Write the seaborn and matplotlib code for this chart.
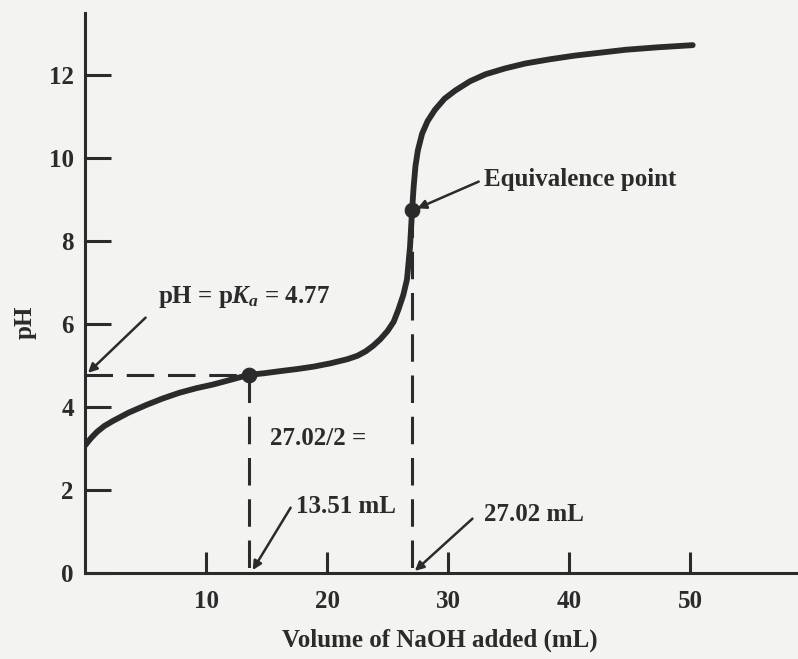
import numpy as np
import pandas as pd
import matplotlib
matplotlib.use('Agg')
import matplotlib.pyplot as plt
import seaborn as sns

# titration curve (mL NaOH, pH)
volume = [0.0, 0.5, 1.0, 1.6, 2.3, 3.6, 5.1, 6.4, 7.8, 9.2, 10.6, 12.0, 13.51,
          14.8, 16.1, 17.5, 18.9, 20.3, 21.7, 22.5, 23.2, 23.8, 24.4, 25.0,
          25.5, 25.9, 26.3, 26.6, 26.85, 27.02, 27.15, 27.3, 27.5, 27.85,
          28.3, 28.9, 29.7, 30.6, 31.8, 33.1, 34.7, 36.4, 38.4, 40.5, 42.6,
          44.7, 47.4, 50.2]
ph = [3.07, 3.25, 3.40, 3.54, 3.66, 3.86, 4.05, 4.20, 4.34, 4.45, 4.54, 4.65, 4.77,
      4.81, 4.86, 4.91, 4.97, 5.05, 5.15, 5.23, 5.34, 5.47, 5.63, 5.83,
      6.05, 6.35, 6.70, 7.07, 7.85, 8.73, 9.30, 9.80, 10.18, 10.58,
      10.88, 11.15, 11.42, 11.62, 11.84, 12.01, 12.15, 12.27, 12.37, 12.46, 12.53,
      12.60, 12.66, 12.71]

half_eq_vol = 13.51
half_eq_ph = 4.77
eq_vol = 27.02
eq_ph = 8.73

x_ticks = [10, 20, 30, 40, 50]
y_ticks = [0, 2, 4, 6, 8, 10, 12]

sns.set_theme(style='white')
plt.rcParams['font.family'] = ['Liberation Serif', 'DejaVu Serif']
plt.rcParams['font.weight'] = 'bold'
plt.rcParams['mathtext.fontset'] = 'custom'
plt.rcParams['mathtext.rm'] = 'Liberation Serif:bold'
plt.rcParams['mathtext.it'] = 'Liberation Serif:italic:bold'
plt.rcParams['mathtext.bf'] = 'Liberation Serif:bold'

ink = '#2b2b2b'
paper = '#f3f3f1'

fig = plt.figure(figsize=(7.98, 6.59), dpi=100, facecolor=paper)
ax = fig.add_axes([0.1065, 0.1305, 0.8935, 0.8495])
ax.set_facecolor(paper)

df = pd.DataFrame({'vol': volume, 'ph': ph})
sns.lineplot(data=df, x='vol', y='ph', ax=ax, color=ink, lw=4.2, sort=False,
             solid_joinstyle='round', solid_capstyle='round')

# guide lines
dash = dict(color=ink, lw=2.2, dashes=(9, 4.5))
ax.plot([0, half_eq_vol], [half_eq_ph, half_eq_ph], **dash)
ax.plot([half_eq_vol, half_eq_vol], [half_eq_ph, 0], **dash)
ax.plot([eq_vol, eq_vol], [eq_ph, 0], **dash)
sns.scatterplot(x=[half_eq_vol, eq_vol], y=[half_eq_ph, eq_ph], ax=ax,
                color=ink, s=110, edgecolor=ink, zorder=5)

ax.set_xlim(0, 58.9)
ax.set_ylim(0, 13.48)
ax.set_xticks(x_ticks)
ax.set_yticks(y_ticks)
fs = 18
ax.tick_params(axis='x', bottom=True, direction='in', length=15, width=2.2,
               pad=12, colors=ink, labelsize=fs)
ax.tick_params(axis='y', left=True, direction='in', length=19, width=2.2,
               pad=8, colors=ink, labelsize=fs)
for t in ax.get_xticklabels() + ax.get_yticklabels():
    t.set_fontweight('bold')
sns.despine(ax=ax)
for s in ['left', 'bottom']:
    ax.spines[s].set_linewidth(2.2)
    ax.spines[s].set_color(ink)
ax.set_xlabel('')
ax.set_ylabel('')

arrow = dict(arrowstyle='-|>', color=ink, lw=1.8, mutation_scale=13,
             shrinkA=0, shrinkB=0)
ax.annotate('Equivalence point', xy=(27.45, 8.78), xytext=(33.0, 9.48),
            ha='left', va='center', fontsize=fs, fontweight='bold', color=ink,
            arrowprops=dict(arrow, relpos=(-0.03, 0.4)))
ax.annotate('pH = p$K_a$ = 4.77', xy=(0.25, 4.82), xytext=(6.0, 6.65),
            ha='left', va='center', fontsize=fs, fontweight='bold', color=ink,
            arrowprops=dict(arrow, relpos=(-0.07, -0.3)))
ax.text(15.3, 3.24, '27.02/2 =', ha='left', va='center', fontsize=fs,
        fontweight='bold', color=ink)
ax.annotate('13.51 mL', xy=(13.85, 0.07), xytext=(17.4, 1.6),
            ha='left', va='center', fontsize=fs, fontweight='bold', color=ink,
            arrowprops=dict(arrow, relpos=(-0.05, 0.45)))
ax.annotate('27.02 mL', xy=(27.25, 0.05), xytext=(33.0, 1.42),
            ha='left', va='center', fontsize=fs, fontweight='bold', color=ink,
            arrowprops=dict(arrow, relpos=(-0.12, 0.3)))

fig.text(440 / 798, 1 - 640 / 659, 'Volume of NaOH added (mL)', ha='center',
         va='center', fontsize=fs, fontweight='bold', color=ink)
fig.text(25 / 798, 1 - 322 / 659, 'pH', ha='center', va='center', rotation=90,
         fontsize=fs, fontweight='bold', color=ink)

fig.savefig('out.png', dpi=100, facecolor=paper)
